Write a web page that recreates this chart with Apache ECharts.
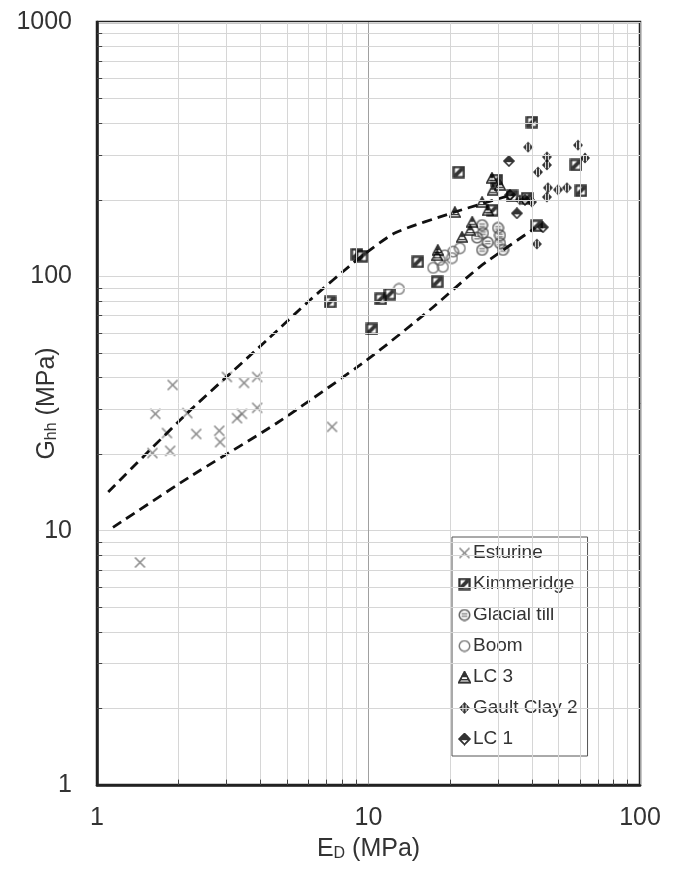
<!DOCTYPE html>
<html><head><meta charset="utf-8">
<script src="https://cdn.jsdelivr.net/npm/echarts@6/dist/echarts.min.js"></script>
<style>html,body{margin:0;padding:0;background:#fff}#c{width:676px;height:872px}</style>
</head><body><div id="c"></div>
<script>
// ---- data: [E_D (MPa), G_hh (MPa)] ----
const esturine = [[1.44,7.5],[1.9,37.4],[1.64,28.8],[1.81,24.2],[1.6,20.2],[1.86,20.6],[2.15,29.0],[2.32,24.0],[2.82,24.7],[2.84,22.3],[3.01,40.2],[3.48,38.1],[3.89,40.2],[3.28,27.7],[3.42,28.8],[3.89,30.4],[7.34,25.6]];
const kimmeridge = [[40.0,404],[21.5,257],[9.07,122],[9.46,120],[7.22,79.3],[10.3,62.1],[11.1,81.5],[12.0,85.2],[15.2,114],[17.9,95.0],[28.7,182],[41.7,158],[58.1,274],[60.6,217],[33.8,207],[38.4,203],[29.7,239]];
const glacialTill = [[26.2,159],[26.4,148],[30.0,155],[30.5,145],[27.5,136],[26.2,127],[30.5,135],[31.3,127],[25.1,142]];
const boom = [[12.95,89.2],[20.5,125],[20.3,118],[18.8,109],[17.3,108],[19.1,121],[21.7,129],[18.3,116]];
const lc3 = [[20.8,179],[24.1,164],[22.1,143],[23.7,152],[18.0,127],[17.9,121],[28.5,244],[28.7,219],[26.2,196],[30.5,229],[27.5,182]];
const gaultClay2 = [[38.7,322],[59.1,328],[45.4,295],[45.4,274],[42.1,257],[62.7,292],[45.8,223],[45.4,205],[49.9,219],[53.8,223],[40.0,196],[41.7,134],[36.1,200]];
const lc1 = [[32.9,284],[33.2,209],[35.2,177],[43.9,156],[37.7,200]];
const upperBound = [[1.10,14.2],[2.15,29.0],[4.23,56.2],[6.09,80.7],[9.07,116],[12.5,148],[20.8,179],[34.6,211]];
const lowerBound = [[1.145,10.3],[2.2,16.3],[4.6,26.5],[9.87,46.9],[16.8,73.7],[25.7,109],[41.1,155]];
const seriesNames = ['Esturine','Kimmeridge','Glacial till','Boom','LC 3','Gault Clay 2','LC 1'];
const xTickLabels = {1:'1',10:'10',100:'100'};
const yTickLabels = {1:'1',10:'10',100:'100',1000:'1000'};
const minorMult = [2,3,4,5,6,7,8,9];

// ---- marker images ----
function icon(size, draw){
  const s=4, c=document.createElement('canvas');
  c.width=size*s; c.height=size*s;
  const g=c.getContext('2d'); g.scale(s,s); draw(g,size);
  return 'image://'+c.toDataURL();
}
const iconX = icon(13,(g)=>{g.strokeStyle='#747474';g.lineWidth=1.6;g.beginPath();g.moveTo(1.5,1.5);g.lineTo(11.5,11.5);g.moveTo(11.5,1.5);g.lineTo(1.5,11.5);g.stroke();});
const iconSq = icon(13,(g)=>{g.fillStyle='#000';g.fillRect(0.3,0.3,12.4,12.4);g.fillStyle='#fff';g.fillRect(2.6,2.6,7.8,7.8);
  g.save();g.beginPath();g.rect(2.6,2.6,7.8,7.8);g.clip();g.strokeStyle='#000';g.lineWidth=3.8;g.beginPath();g.moveTo(1,12);g.lineTo(12,1);g.stroke();g.restore();});
const iconGT = icon(13,(g)=>{g.strokeStyle='#444';g.lineWidth=1.6;g.beginPath();g.arc(6.5,6.5,5.2,0,Math.PI*2);g.stroke();
  g.lineWidth=1.2;g.beginPath();g.moveTo(3.6,5.3);g.lineTo(9.4,5.3);g.moveTo(3.6,7.8);g.lineTo(9.4,7.8);g.stroke();});
const iconBoom = icon(13,(g)=>{g.strokeStyle='#5e5e5e';g.lineWidth=1.5;g.beginPath();g.arc(6.5,6.5,5.2,0,Math.PI*2);g.stroke();});
const iconTri = icon(12,(g)=>{g.beginPath();g.moveTo(6,1);g.lineTo(11.3,11);g.lineTo(0.7,11);g.closePath();g.fillStyle='#fff';g.fill();
  g.strokeStyle='#000';g.lineWidth=1.6;g.stroke();g.beginPath();g.moveTo(6,1);g.lineTo(8.7,6.2);g.lineTo(3.3,6.2);g.closePath();g.fillStyle='#000';g.fill();
  g.lineWidth=1.2;g.beginPath();g.moveTo(2.4,8.6);g.lineTo(9.6,8.6);g.stroke();});
const iconGault = icon(12,(g)=>{g.beginPath();g.moveTo(6,0.5);g.lineTo(11,6);g.lineTo(6,11.5);g.lineTo(1,6);g.closePath();g.fillStyle='#000';g.fill();
  g.strokeStyle='#fff';g.lineWidth=0.9;g.beginPath();g.moveTo(4.6,2.8);g.lineTo(4.6,9.2);g.moveTo(7.4,2.8);g.lineTo(7.4,9.2);g.stroke();});
const iconLC1 = icon(12,(g)=>{g.beginPath();g.moveTo(6,1);g.lineTo(11,6);g.lineTo(6,11);g.lineTo(1,6);g.closePath();g.fillStyle='#fff';g.fill();
  g.strokeStyle='#000';g.lineWidth=1.6;g.stroke();g.beginPath();g.moveTo(6,1);g.lineTo(11,6);g.lineTo(1,6);g.closePath();g.fillStyle='#000';g.fill();
  g.beginPath();g.moveTo(1,6.3);g.lineTo(11,6.3);g.stroke();});
const icons=[iconX,iconSq,iconGT,iconBoom,iconTri,iconGault,iconLC1];
const sizes=[13,13,13,13,12,12,12];
const datasets=[esturine,kimmeridge,glacialTill,boom,lc3,gaultClay2,lc1];

// ---- grid helpers computed from tick values ----
const xMinor=[],yMinor=[];
[1,10].forEach(d=>minorMult.forEach(m=>xMinor.push(d*m)));
[1,10,100].forEach(d=>minorMult.forEach(m=>yMinor.push(d*m)));
const gridLineStyle={type:'solid',color:'#d6d6d6',width:1};
const tickStyle={type:'solid',color:'#444',width:1};
const markData=[];
xMinor.forEach(v=>markData.push({xAxis:v,lineStyle:gridLineStyle}));
yMinor.forEach(v=>markData.push({yAxis:v,lineStyle:gridLineStyle}));
xMinor.forEach(v=>markData.push([{coord:[v,1],lineStyle:tickStyle},{coord:[v,1.05]}]));
yMinor.forEach(v=>markData.push([{coord:[1,v],lineStyle:tickStyle},{coord:[1.045,v]}]));

const FONT='Liberation Sans, Arial, sans-serif';
const series=[{
  type:'scatter',data:[],z:0,silent:true,
  markLine:{silent:true,symbol:['none','none'],label:{show:false},animation:false,data:markData}
}];
datasets.forEach((d,i)=>series.push({name:seriesNames[i],type:'scatter',data:d,symbol:icons[i],symbolSize:sizes[i],z:3,emphasis:{disabled:true}}));
[upperBound,lowerBound].forEach(d=>series.push({type:'line',data:d,showSymbol:false,symbol:'none',smooth:0.2,z:4,silent:true,
  lineStyle:{color:'#111',width:2.8,type:[10,6]}}));

const rich={a:{fontSize:25,color:'#333',fontFamily:FONT,verticalAlign:'bottom',lineHeight:28},b:{fontSize:16,color:'#333',fontFamily:FONT,verticalAlign:'bottom',lineHeight:22}};
const chart=echarts.init(document.getElementById('c'),null,{renderer:'canvas'});
chart.setOption({
  animation:false,
  backgroundColor:'#fff',
  textStyle:{fontFamily:FONT},
  grid:{left:97,right:36,top:22,bottom:87,containLabel:false,outerBoundsMode:'none',show:true,borderColor:'#222',borderWidth:2.5,backgroundColor:'transparent'},
  xAxis:{type:'log',logBase:10,min:1,max:100,
    axisLine:{show:true,lineStyle:{color:'#222',width:2.5}},axisTick:{show:false},
    axisLabel:{fontSize:25,color:'#333',margin:21,fontFamily:FONT,formatter:v=>xTickLabels[Math.round(v)]},
    splitLine:{show:true,lineStyle:{color:'#a0a0a0',width:1}},
    name:'{a|E}{b|D}{a| (MPa)}',nameLocation:'middle',nameGap:49,nameMoveOverlap:false,
    nameTextStyle:{rich:rich}},
  yAxis:{type:'log',logBase:10,min:1,max:1000,
    axisLine:{show:true,lineStyle:{color:'#222',width:2.5}},axisTick:{show:false},
    axisLabel:{fontSize:25,color:'#333',margin:25,fontFamily:FONT,formatter:v=>yTickLabels[Math.round(v)]},
    splitLine:{show:true,lineStyle:{color:'#d6d6d6',width:1}},
    name:'{a|G}{b|hh}{a| (MPa)}',nameLocation:'middle',nameGap:37,nameMoveOverlap:false,
    nameTextStyle:{rich:rich}},
  legend:{orient:'vertical',left:452,top:537,itemWidth:13,itemHeight:13,itemGap:11,
    padding:[6,10,7,6],borderColor:'#555',borderWidth:1,backgroundColor:'rgba(255,255,255,0.55)',
    selectedMode:false,
    textStyle:{fontSize:19,color:'#333',fontFamily:FONT,lineHeight:20,padding:[0,0,0,-3]},
    data:seriesNames.map((n,i)=>({name:n,icon:icons[i]}))},
  series:series
});
</script></body></html>
